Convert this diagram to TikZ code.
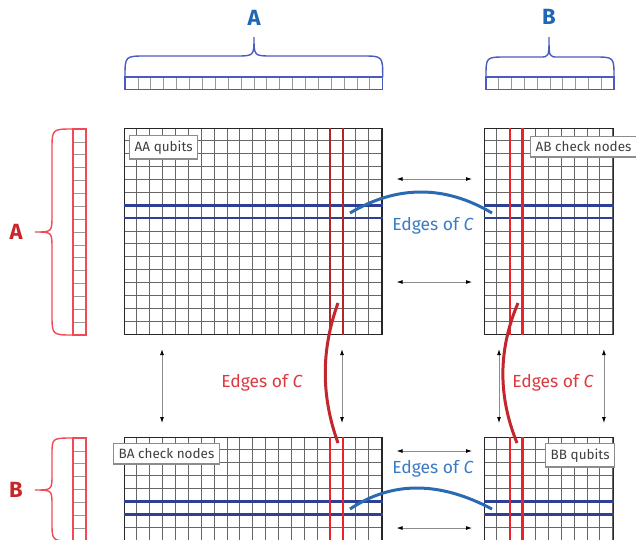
\documentclass[tikz,border=0pt]{standalone}
\usepackage{fontspec}
\setmainfont{Fira Sans}
\usetikzlibrary{calc,arrows.meta}

\definecolor{labblue}{HTML}{1F66B3}
\definecolor{bracebl}{HTML}{4A5BBF}
\definecolor{labred}{HTML}{C9262C}
\definecolor{bracerd}{HTML}{EF4A55}
\definecolor{navy}{HTML}{2F3F93}
\definecolor{markred}{HTML}{E8232A}
\definecolor{darkred}{HTML}{B3242A}
\definecolor{arcblue}{HTML}{2A6AB3}
\definecolor{arcred}{HTML}{C1272D}
\definecolor{txtblue}{HTML}{3A7CC4}
\definecolor{txtred}{HTML}{DB3A40}

\newcommand{\cellsz}{12.87}

% grid of cells: name, x0, y0, columns, rows
\newcommand{\qgrid}[5]{%
  \foreach \i in {0,...,#4}
    \draw[gridline] ({#2+\i*\cellsz},#3) -- ++(0,{#5*\cellsz});
  \foreach \j in {0,...,#5}
    \draw[gridline] (#2,{#3+\j*\cellsz}) -- ++({#4*\cellsz},0);
  \node[gridframe, anchor=north west, minimum width={#4*\cellsz pt},
        minimum height={#5*\cellsz pt}] (#1) at (#2,#3) {};
}

\tikzset{
  gridline/.style={black!60, line width=0.8pt},
  gridframe/.style={draw=black!85, line width=1.2pt, inner sep=0pt},
  rowmark/.style={navy, line width=2.6pt},
  colmark/.style={markred, line width=2.4pt},
  labelbox/.style={draw=black!45, line width=1.4pt, fill=white, inner xsep=5pt,
                   inner ysep=5pt, text=black!75, font=\fontsize{13.5}{15}\selectfont},
  twoway/.style={black!45, line width=0.8pt,
                 {Latex[black,length=6pt,width=4pt]}-{Latex[black,length=6pt,width=4pt]}},
  edgearc/.style={line width=3pt},
  edgetext/.style={font=\fontsize{17.5}{19}\selectfont},
  setname/.style={font=\fontsize{22}{24}\selectfont\bfseries},
  qbrace/.style={line width=1.4pt},
  cellline/.style={black!40, line width=0.7pt},
}

\begin{document}
\begin{tikzpicture}[x=1pt, y=-1pt]
  \useasboundingbox (0,0) rectangle (636,539);
  \clip (0,0) rectangle (636,539);

  % Draw the four blocks
  \qgrid{AA}{124}{128}{20}{16}
  \qgrid{AB}{484}{128}{10}{16}
  \qgrid{BA}{124}{437}{20}{10}
  \qgrid{BB}{484}{437}{10}{10}

  % Highlighted rows
  \foreach \r in {6,7} {
    \draw[rowmark] ($(AA.north west)+(0,\r*\cellsz)$) -- ($(AA.north east)+(0,\r*\cellsz)$);
    \draw[rowmark] ($(AB.north west)+(0,\r*\cellsz)$) -- ($(AB.north east)+(0,\r*\cellsz)$);
  }
  \foreach \r in {5,6} {
    \draw[rowmark] ($(BA.north west)+(0,\r*\cellsz)$) -- ($(BA.north east)+(0,\r*\cellsz)$);
    \draw[rowmark] ($(BB.north west)+(0,\r*\cellsz)$) -- ($(BB.north east)+(0,\r*\cellsz)$);
  }

  % Highlighted columns
  \foreach \c in {16,17} {
    \draw[colmark, darkred] ($(AA.north west)+(\c*\cellsz,0)$) -- ($(AA.south west)+(\c*\cellsz,0)$);
    \draw[colmark] ($(BA.north west)+(\c*\cellsz,0)$) -- ($(BA.south west)+(\c*\cellsz,0)$);
  }
  \foreach \c in {2,3} {
    \draw[colmark] ($(AB.north west)+(\c*\cellsz,0)$) -- ($(AB.south west)+(\c*\cellsz,0)$);
    \draw[colmark] ($(BB.north west)+(\c*\cellsz,0)$) -- ($(BB.south west)+(\c*\cellsz,0)$);
  }

  % Block labels
  \node[labelbox, anchor=north west] (aaq) at ($(AA.north west)+(5,7)$) {AA qubits};
  \node[labelbox, anchor=north west] (abc) at ($(AB.north west)+(46,8)$) {AB check nodes};
  \node[labelbox, anchor=north west] (bac) at ($(BA.north west)+(-11,6)$) {BA check nodes};
  \node[labelbox, anchor=north west] (bbq) at ($(BB.north west)+(61,6)$) {BB qubits};

  % Top cell rows and braces
  \foreach \k in {1,...,19}
    \draw[cellline] ({125+\k*12.885},77) -- ({125+\k*12.885},89.5);
  \draw[bracebl, qbrace] (125,77) rectangle (382.7,89.5);
  \foreach \k in {1,...,9}
    \draw[cellline] ({486+\k*12.8},77) -- ({486+\k*12.8},89.5);
  \draw[bracebl, qbrace] (486,77) rectangle (614,89.5);

  \draw[bracebl, qbrace] (125,77) .. controls (125,56) .. (146,56) -- (236,56)
    .. controls (254,56) .. (254,37) .. controls (254,56) .. (272,56) -- (362,56)
    .. controls (382.7,56) .. (382.7,77);
  \draw[bracebl, qbrace] (486,77) .. controls (486,57) .. (506,57) -- (540,57)
    .. controls (549,57) .. (549,37) .. controls (549,57) .. (558,57) -- (594,57)
    .. controls (614,57) .. (614,77);
  \node[setname, labblue] (topA) at (254,18) {A};
  \node[setname, labblue] (topB) at (549,17) {B};

  % Left cell columns and braces
  \foreach \k in {1,...,15}
    \draw[cellline] (73,{129+\k*12.875}) -- (86,{129+\k*12.875});
  \draw[bracerd, qbrace] (73,129) rectangle (86,335);
  \foreach \k in {1,...,9}
    \draw[cellline] (73,{438+\k*12.875}) -- (86,{438+\k*12.875});
  \draw[bracerd, qbrace] (73,438) rectangle (86,566.75);

  \draw[bracerd, qbrace] (73,129) .. controls (52,129) .. (52,150) -- (52,215)
    .. controls (52,232) .. (35,232) .. controls (52,232) .. (52,249) -- (52,314)
    .. controls (52,335) .. (73,335);
  \draw[bracerd, qbrace] (73,438) .. controls (52,438) .. (52,455) -- (52,474)
    .. controls (52,490) .. (35,490) .. controls (52,490) .. (52,506) -- (52,522)
    .. controls (52,541) .. (73,541);
  \node[setname, labred] (leftA) at (16,232) {A};
  \node[setname, labred] (leftB) at (16,490) {B};

  % Double arrows between blocks
  \draw[twoway] ($(AA.north east)+(14,51)$) -- ($(AB.north west)+(-12,51)$);
  \draw[twoway] ($(AA.north east)+(14,154)$) -- ($(AB.north west)+(-12,154)$);
  \draw[twoway] ($(BA.north east)+(14,14)$) -- ($(BB.north west)+(-12,14)$);
  \draw[twoway] ($(BA.north east)+(14,91)$) -- ($(BB.north west)+(-12,91)$);
  \draw[twoway] ($(AA.south west)+(38,14)$) -- ($(BA.north west)+(38,-14)$);
  \draw[twoway] ($(AA.south west)+(218,14)$) -- ($(BA.north west)+(218,-14)$);
  \draw[twoway] ($(AB.south west)+(15,14)$) -- ($(BB.north west)+(15,-14)$);
  \draw[twoway] ($(AB.south east)+(-10,14)$) -- ($(BB.north east)+(-10,-14)$);

  % Edges of C, blue
  \coordinate (AAout) at (350,213);
  \coordinate (ABin) at (492,213);
  \coordinate (BAout) at (350,509);
  \coordinate (BBin) at (492,509);
  \draw[edgearc, arcblue] (AAout) .. controls ($(AAout)+(47,-28)$) and ($(ABin)+(-47,-28)$) .. (ABin);
  \draw[edgearc, arcblue] (BAout) .. controls ($(BAout)+(42,-28)$) and ($(BBin)+(-53,-28)$) .. (BBin);
  \node[edgetext, txtblue] (topC) at (433,226) {Edges of \textit{C}};
  \node[edgetext, txtblue] (botC) at (433,469) {Edges of \textit{C}};

  % Edges of C, red
  \coordinate (AAdown) at (338,303);
  \coordinate (BAup) at (338,443);
  \coordinate (ABdown) at (518,303);
  \coordinate (BBup) at (517,443);
  \draw[edgearc, arcred] (AAdown) .. controls ($(AAdown)+(-17,47)$) and ($(BAup)+(-17,-47)$) .. (BAup);
  \draw[edgearc, arcred] (ABdown) .. controls ($(ABdown)+(-20,47)$) and ($(BBup)+(-19,-47)$) .. (BBup);
  \node[edgetext, txtred] (leftC) at (262,383) {Edges of \textit{C}};
  \node[edgetext, txtred] (rightC) at (553,383) {Edges of \textit{C}};
\end{tikzpicture}
\end{document}
